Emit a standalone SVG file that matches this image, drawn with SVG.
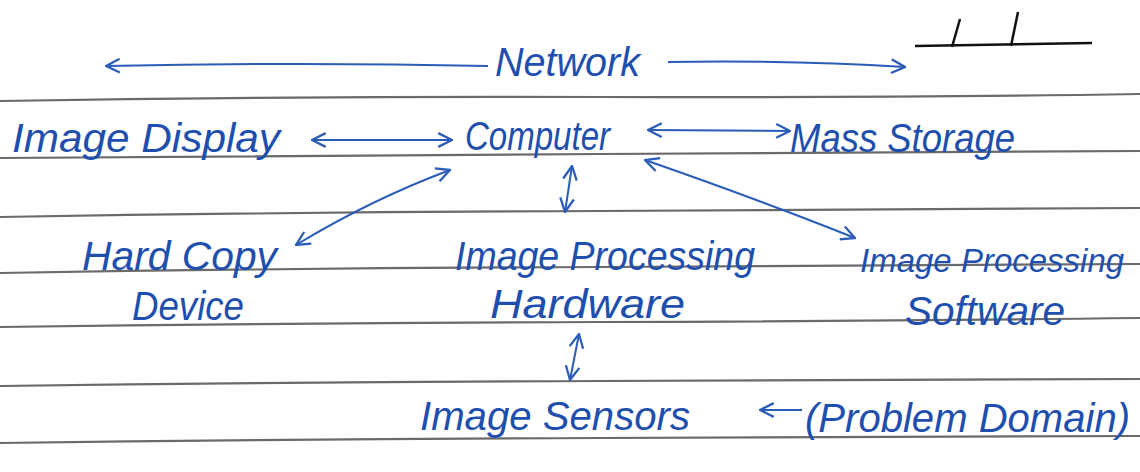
<svg xmlns="http://www.w3.org/2000/svg" width="1140" height="472" viewBox="0 0 1140 472">
<defs>
<marker id="ah" viewBox="0 0 14 14" refX="13" refY="7" markerWidth="16" markerHeight="16" markerUnits="userSpaceOnUse" orient="auto-start-reverse"><path d="M1,1 L13,7 L1,13" fill="none" stroke="#2a5cb8" stroke-width="2"/></marker>
</defs>
<style>
.t{font-family:"Liberation Sans",Arial,sans-serif;font-style:italic;fill:#1f4fae;font-size:40px}
.c{fill:none;stroke:#2a5cb8;stroke-width:2;marker-end:url(#ah)}
.b{marker-start:url(#ah)}
.rule{fill:none;stroke:#6a6a6a;stroke-width:2.2}
.sym{fill:none;stroke:#111;stroke-width:2.5}
</style>
<rect width="1140" height="472" fill="#ffffff"/>
<g id="rules">
<path class="rule" d="M0,101 Q300,96 600,97 T1140,94"/>
<path class="rule" d="M0,158 Q300,155 600,154 T1140,151"/>
<path class="rule" d="M0,217 Q300,212 600,211 T1140,208"/>
<path class="rule" d="M0,273 Q300,268 600,267 T1140,264"/>
<path class="rule" d="M0,327 Q300,323 600,322 T1140,318"/>
<path class="rule" d="M0,386 Q300,382 600,381 T1140,379"/>
<path class="rule" d="M0,443 Q300,439 600,438 T1140,436"/>
</g>
<g id="network-symbol">
<path class="sym" d="M915,46 L1092,43"/>
<path class="sym" d="M952,47 L960,19"/>
<path class="sym" d="M1011,46 L1018,12"/>
</g>
<g id="connectors">
<path class="c" d="M488,66 Q300,62 106,66"/>
<path class="c" d="M668,62 Q790,60 905,67"/>
<path class="c b" d="M312,140 L452,140"/>
<path class="c b" d="M648,130 L790,131"/>
<path class="c b" d="M450,170 Q370,200 296,245"/>
<path class="c b" d="M572,166 L565,212"/>
<path class="c b" d="M645,160 Q760,200 855,238"/>
<path class="c b" d="M579,334 L570,380"/>
<path class="c" d="M802,410 L760,410"/>
</g>
<g id="node-network"><text class="t" x="495" y="76" textLength="145" lengthAdjust="spacingAndGlyphs">Network</text></g>
<g id="node-image-display"><text class="t" x="12" y="152" textLength="268" lengthAdjust="spacingAndGlyphs">Image Display</text></g>
<g id="node-computer"><text class="t" x="465" y="150" textLength="145" lengthAdjust="spacingAndGlyphs">Computer</text></g>
<g id="node-mass-storage"><text class="t" x="790" y="152" textLength="225" lengthAdjust="spacingAndGlyphs">Mass Storage</text></g>
<g id="node-hard-copy">
<text class="t" x="82" y="270" textLength="195" lengthAdjust="spacingAndGlyphs">Hard Copy</text>
<text class="t" x="132" y="320" textLength="112" lengthAdjust="spacingAndGlyphs">Device</text>
</g>
<g id="node-ip-hardware">
<text class="t" x="455" y="270" textLength="300" lengthAdjust="spacingAndGlyphs">Image Processing</text>
<text class="t" x="490" y="318" textLength="195" lengthAdjust="spacingAndGlyphs">Hardware</text>
</g>
<g id="node-ip-software">
<text class="t" x="860" y="272" style="font-size:33px">Image Processing</text>
<text class="t" x="905" y="325" textLength="160" lengthAdjust="spacingAndGlyphs">Software</text>
</g>
<g id="node-image-sensors"><text class="t" x="420" y="430" textLength="270" lengthAdjust="spacingAndGlyphs">Image Sensors</text></g>
<g id="node-problem-domain"><text class="t" x="805" y="432" textLength="325" lengthAdjust="spacingAndGlyphs">(Problem Domain)</text></g>
</svg>
